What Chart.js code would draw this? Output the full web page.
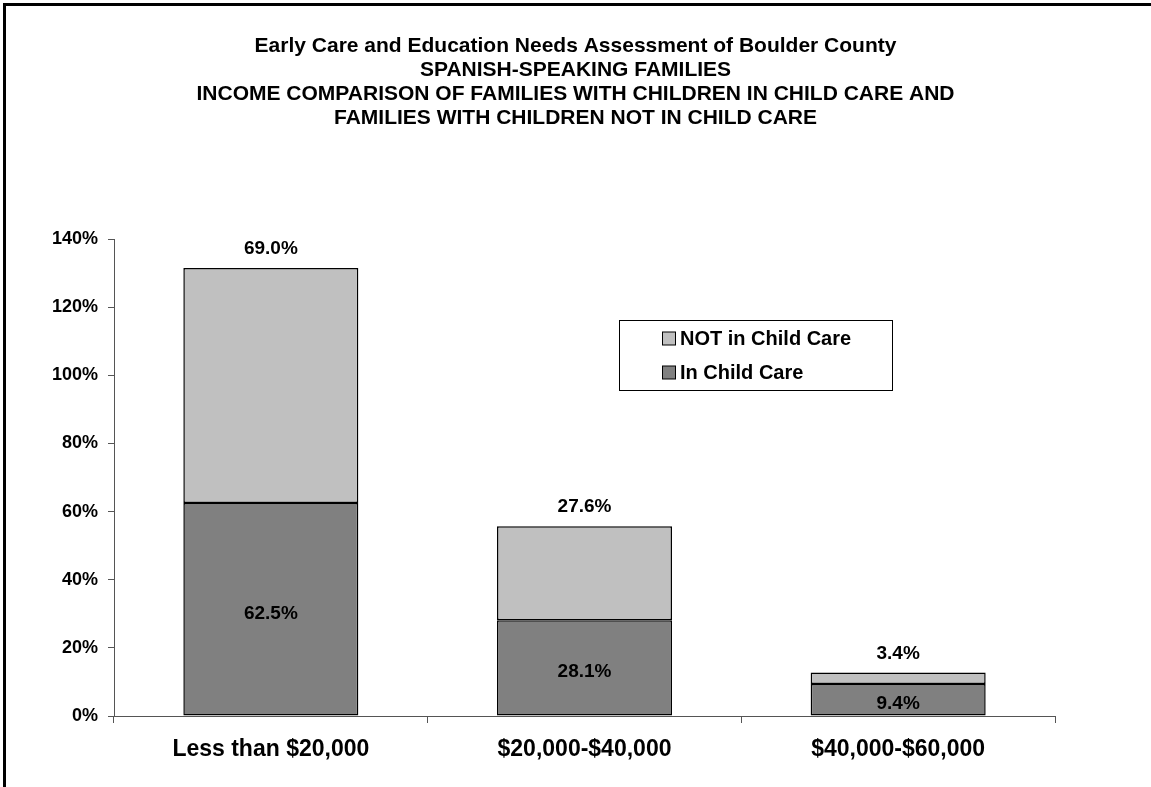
<!DOCTYPE html>
<html>
<head>
<meta charset="utf-8">
<title>Income comparison - Spanish-speaking families</title>
<script src="https://cdn.jsdelivr.net/npm/chart.js@4"></script>
<style>
    html, body { margin: 0; padding: 0; background: #fff; overflow: hidden; }
    #frame {
        position: absolute; left: 3px; top: 3px;
        width: 2000px; height: 2000px;
        border: 3px solid #000;
    }
    #wrap { position: absolute; left: 0; top: 0; width: 1151px; height: 787px; }
</style>
</head>
<body>
<div id="frame"></div>
<div id="wrap"><canvas id="incomeChart" width="1151" height="787"></canvas></div>
<script>
// Chart data
const categories = ['Less than $20,000', '$20,000-$40,000', '$40,000-$60,000'];
const inChildCare = [62.5, 28.1, 9.4];
const notInChildCare = [69.0, 27.6, 3.4];
const yTicks = [0, 20, 40, 60, 80, 100, 120, 140];

const titleLines = [
    'Early Care and Education Needs Assessment of Boulder County',
    'SPANISH-SPEAKING FAMILIES',
    'INCOME COMPARISON OF FAMILIES WITH CHILDREN IN CHILD CARE AND',
    'FAMILIES WITH CHILDREN NOT IN CHILD CARE'
];

const FONT = "'Liberation Sans', Arial, sans-serif";

/**
 * Value labels
 * ------------
 * "In Child Care" values sit in the middle of their segment,
 * "NOT in Child Care" values sit just above the stack.
 */
const valueLabels = {
    id: 'valueLabels',
    afterDatasetsDraw(chart) {
        const ctx = chart.ctx;
        ctx.save();
        ctx.font = 'bold 19px ' + FONT;
        ctx.fillStyle = '#000';
        ctx.textAlign = 'center';
        ctx.textBaseline = 'middle';
        chart.data.datasets.forEach(function(ds, i) {
            const meta = chart.getDatasetMeta(i);
            meta.data.forEach(function(bar, j) {
                const txt = ds.data[j].toFixed(1) + '%';
                if (i === 0) {
                    ctx.fillText(txt, bar.x, (bar.y + bar.base) / 2 + 4);
                } else {
                    ctx.fillText(txt, bar.x, bar.y - 19);
                }
            });
        });
        ctx.restore();
    }
};

// Boxed legend inside the plot, like the original spreadsheet chart
const boxLegend = {
    id: 'boxLegend',
    afterDraw(chart) {
        const ctx = chart.ctx;
        const bx = 619.5, by = 320.5, bw = 273, bh = 70;
        ctx.save();
        ctx.strokeStyle = '#000';
        ctx.lineWidth = 1;
        ctx.strokeRect(bx, by, bw, bh);
        ctx.font = 'bold 20px ' + FONT;
        ctx.textBaseline = 'middle';
        ctx.textAlign = 'left';
        const items = chart.data.datasets.slice().reverse();
        items.forEach(function(ds, k) {
            const cy = by + 18 + k * 34;
            ctx.fillStyle = ds.backgroundColor;
            ctx.fillRect(662.5, cy - 6.5, 13, 13);
            ctx.strokeStyle = '#000';
            ctx.strokeRect(662.5, cy - 6.5, 13, 13);
            ctx.fillStyle = '#000';
            ctx.fillText(ds.label, 680, cy + 1);
        });
        ctx.restore();
    }
};

const ctx = document.getElementById('incomeChart');
new Chart(ctx, {
    type: 'bar',
    data: {
        labels: categories,
        datasets: [
            {
                label: 'In Child Care',
                data: inChildCare,
                backgroundColor: '#808080',
                borderColor: '#000',
                borderWidth: 1.5,
                borderSkipped: false,
                categoryPercentage: 1.0,
                barPercentage: 0.558
            },
            {
                label: 'NOT in Child Care',
                data: notInChildCare,
                backgroundColor: '#C0C0C0',
                borderColor: '#000',
                borderWidth: 1.5,
                borderSkipped: false,
                categoryPercentage: 1.0,
                barPercentage: 0.558
            }
        ]
    },
    options: {
        responsive: false,
        animation: false,
        layout: {
            padding: { left: 0, right: 0, top: 0, bottom: 0 }
        },
        plugins: {
            legend: { display: false },
            tooltip: { enabled: false },
            title: {
                display: true,
                text: titleLines,
                color: '#000',
                font: { family: FONT, size: 21, weight: 'bold', lineHeight: 24 / 21 },
                padding: { top: 34, bottom: 109 }
            }
        },
        scales: {
            x: {
                stacked: true,
                grid: {
                    display: true,
                    drawOnChartArea: false,
                    offset: true,
                    tickLength: 7,
                    color: '#555'
                },
                border: { color: '#555', width: 1 },
                ticks: {
                    color: '#000',
                    padding: 13,
                    maxRotation: 0,
                    font: { family: FONT, size: 23, weight: 'bold' }
                },
                afterFit: function(scale) { scale.height = 71; }
            },
            y: {
                stacked: true,
                min: 0,
                max: 140,
                afterBuildTicks: function(scale) {
                    scale.ticks = yTicks.map(function(v) { return { value: v }; });
                },
                grid: {
                    display: true,
                    drawOnChartArea: false,
                    tickLength: 6,
                    color: '#555'
                },
                border: { color: '#555', width: 1 },
                ticks: {
                    color: '#000',
                    padding: 10,
                    font: { family: FONT, size: 18, weight: 'bold' },
                    callback: function(v) { return v + '%'; }
                },
                afterFit: function(scale) { scale.width = 114; }
            },
            // empty right-hand axis: keeps white space right of the plot
            // while the title stays centred on the whole picture
            spacer: {
                type: 'linear',
                position: 'right',
                display: true,
                grid: { display: false },
                border: { display: false },
                ticks: { display: false },
                afterFit: function(scale) { scale.width = 96; }
            }
        }
    },
    plugins: [valueLabels, boxLegend]
});
</script>
</body>
</html>
